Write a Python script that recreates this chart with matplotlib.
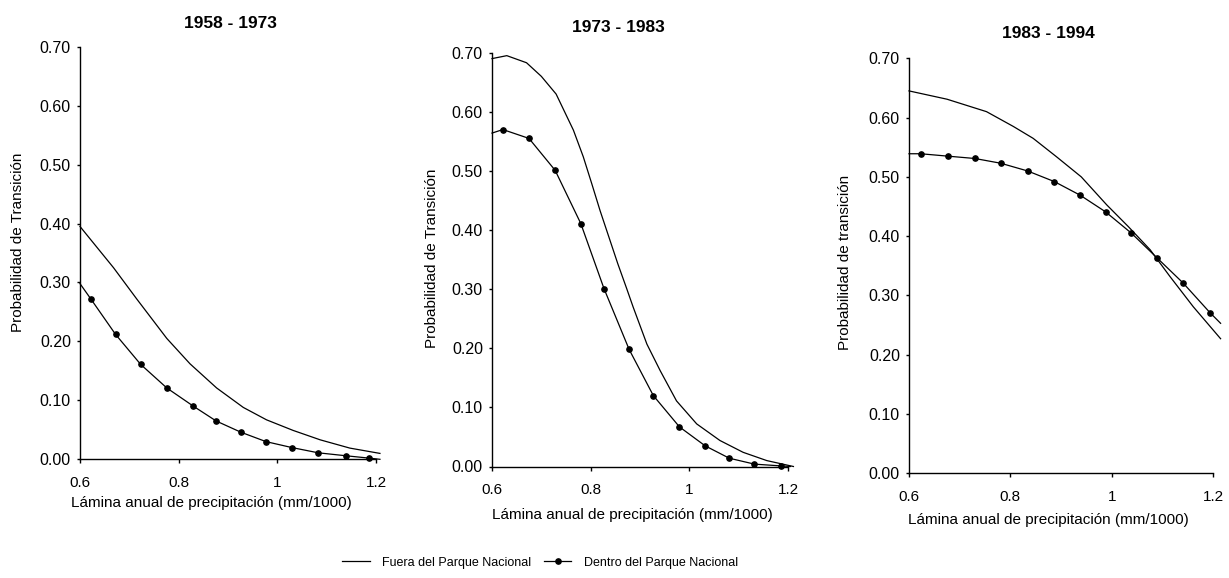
import numpy as np
import matplotlib
matplotlib.use("Agg")
import matplotlib.pyplot as plt
import matplotlib.ticker as ticker

plt.rcParams['font.family'] = ['Liberation Sans', 'DejaVu Sans']

# 1958 - 1973
x_fuera_1 = [0.600, 0.668, 0.715, 0.776, 0.823, 0.877, 0.931, 0.978, 1.032, 1.087, 1.147, 1.208]
y_fuera_1 = [0.395, 0.325, 0.272, 0.205, 0.162, 0.121, 0.088, 0.067, 0.049, 0.033, 0.019, 0.010]
x_dentro_1 = [0.600, 0.622, 0.672, 0.723, 0.776, 0.830, 0.876, 0.926, 0.977, 1.029, 1.083, 1.139, 1.186, 1.208]
y_dentro_1 = [0.298, 0.272, 0.212, 0.161, 0.121, 0.090, 0.065, 0.046, 0.030, 0.020, 0.011, 0.006, 0.002, 0.000]

# 1973 - 1983
x_fuera_2 = [0.600, 0.630, 0.670, 0.700, 0.730, 0.765, 0.785, 0.802, 0.819, 0.839, 0.855, 0.873,
             0.886, 0.914, 0.941, 0.974, 1.015, 1.062, 1.109, 1.157, 1.211]
y_fuera_2 = [0.690, 0.695, 0.683, 0.660, 0.630, 0.569, 0.524, 0.479, 0.433, 0.383, 0.343, 0.301,
             0.270, 0.207, 0.162, 0.111, 0.072, 0.044, 0.024, 0.010, 0.000]
x_dentro_2 = [0.600, 0.622, 0.675, 0.728, 0.780, 0.827, 0.878, 0.927, 0.980, 1.032, 1.081, 1.132, 1.186, 1.205]
y_dentro_2 = [0.564, 0.570, 0.555, 0.501, 0.411, 0.301, 0.198, 0.120, 0.067, 0.035, 0.014, 0.004, 0.001, 0.000]

# 1983 - 1994
x_fuera_3 = [0.600, 0.675, 0.753, 0.806, 0.845, 0.891, 0.940, 0.990, 1.033, 1.076, 1.115, 1.161, 1.215]
y_fuera_3 = [0.645, 0.631, 0.610, 0.585, 0.565, 0.534, 0.500, 0.453, 0.416, 0.377, 0.332, 0.281, 0.227]
x_dentro_3 = [0.600, 0.623, 0.676, 0.730, 0.781, 0.834, 0.887, 0.938, 0.988, 1.039, 1.090, 1.141, 1.194, 1.215]
y_dentro_3 = [0.539, 0.539, 0.535, 0.531, 0.523, 0.510, 0.492, 0.469, 0.441, 0.405, 0.363, 0.321, 0.271, 0.253]

titles = ['1958 - 1973', '1973 - 1983', '1983 - 1994']
ylabels = ['Probabilidad de Transición', 'Probabilidad de Transición', 'Probabilidad de transición']
xlabel = 'Lámina anual de precipitación (mm/1000)'
y_ticks = [0.0, 0.1, 0.2, 0.3, 0.4, 0.5, 0.6, 0.7]
x_ticks = [0.6, 0.8, 1.0, 1.2]
x_ticklabels = ['0.6', '0.8', '1', '1.2']

W, H = 1229, 578
fig = plt.figure(figsize=(W / 100, H / 100), dpi=100)

# axes boxes in pixels: left, right, top, bottom
boxes = [(80, 376, 46.7, 459.3), (492, 788, 52.7, 466.5), (909, 1213, 58.3, 473.3)]
title_pos = [(230, 23), (618, 28), (1048, 33)]
ylab_pos = [(18, 242), (432, 258), (845, 262)]
xlab_pos = [(211, 503), (632, 515), (1048, 520)]

series = [(x_fuera_1, y_fuera_1, x_dentro_1, y_dentro_1),
          (x_fuera_2, y_fuera_2, x_dentro_2, y_dentro_2),
          (x_fuera_3, y_fuera_3, x_dentro_3, y_dentro_3)]

handles = None
for i, (l, r, t, b) in enumerate(boxes):
    ax = fig.add_axes([l / W, 1 - b / H, (r - l) / W, (b - t) / H])
    xf, yf, xd, yd = series[i]
    h1, = ax.plot(xf, yf, color='black', lw=0.9, clip_on=False,
                  label='Fuera del Parque Nacional')
    h2, = ax.plot(xd, yd, color='black', lw=0.9, marker='o', ms=3.8,
                  markevery=slice(1, -1), clip_on=False,
                  label='Dentro del Parque Nacional')
    if handles is None:
        handles = [h1, h2]

    ax.set_xlim(0.6, 1.2)
    ax.set_ylim(0, 0.70)
    ax.set_yticks(y_ticks)
    ax.yaxis.set_major_formatter(ticker.FormatStrFormatter('%.2f'))
    ax.set_xticks(x_ticks)
    ax.set_xticklabels(x_ticklabels)
    for s in ['top', 'right']:
        ax.spines[s].set_visible(False)
    for s in ['left', 'bottom']:
        ax.spines[s].set_linewidth(1.0)
    ax.tick_params(axis='y', direction='out', length=2.5, width=1.0, pad=4, labelsize=11.5)
    ax.tick_params(axis='x', direction='out', length=3, width=1.0, pad=9, labelsize=11)

    tx, ty = title_pos[i]
    fig.text(tx / W, 1 - ty / H, titles[i], ha='center', va='center',
             fontsize=12.5, fontweight='bold')
    yx, yy = ylab_pos[i]
    fig.text(yx / W, 1 - yy / H, ylabels[i], ha='center', va='center',
             rotation=90, fontsize=11)
    xx, xy = xlab_pos[i]
    fig.text(xx / W, 1 - xy / H, xlabel, ha='center', va='center', fontsize=11)

fig.legend(handles=handles, loc='center', bbox_to_anchor=(540 / W, 1 - 562.7 / H),
           ncol=2, frameon=False, fontsize=9, handlelength=2.2, handletextpad=1.0,
           columnspacing=1.0, numpoints=1)

fig.savefig('out.png', dpi=100)
